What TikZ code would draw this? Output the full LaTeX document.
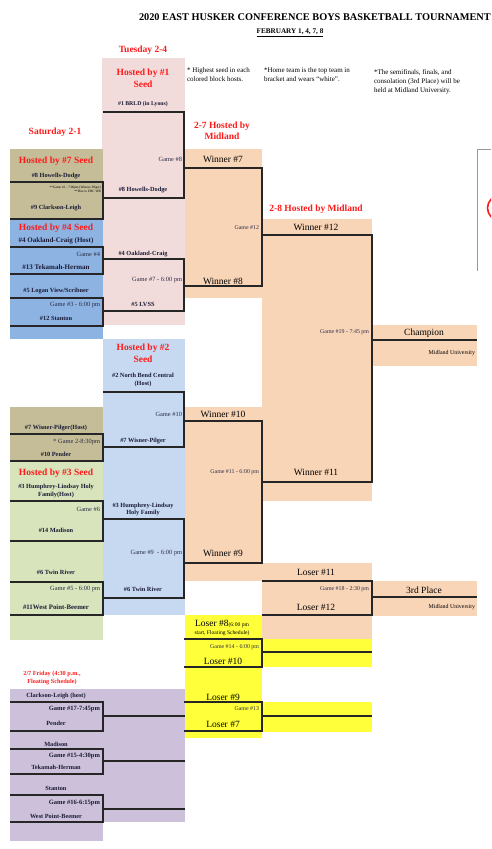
\documentclass[tikz,border=0pt]{standalone}
\usepackage{fontspec}
\setmainfont{Liberation Serif}
\usepackage{tikz}
\usetikzlibrary{positioning}
\definecolor{ehcPink}{HTML}{F2DCDB}
\definecolor{ehcTan}{HTML}{C4BD97}
\definecolor{ehcBlue}{HTML}{8DB3E2}
\definecolor{ehcSky}{HTML}{C6D9F0}
\definecolor{ehcPeach}{HTML}{F9D5B7}
\definecolor{ehcGreen}{HTML}{D7E4BC}
\definecolor{ehcYellow}{HTML}{FFFF3A}
\definecolor{ehcLilac}{HTML}{CCC0DA}
\definecolor{ehcNavy}{HTML}{1A1A36}
\definecolor{ehcRed}{HTML}{FF1A1A}

\begin{document}
\begin{tikzpicture}[x=1pt,y=-1pt,
    every node/.style={inner sep=0pt,outer sep=0pt},
    hosthdr/.style={text=ehcRed,font=\bfseries\fontsize{9.5}{11.5}\selectfont,align=center},
    dayhdr/.style={text=ehcRed,font=\bfseries\fontsize{9.5}{11}\selectfont,align=center},
    team/.style={text=ehcNavy,font=\bfseries\fontsize{6.3}{7.4}\selectfont,align=center},
    gamelbl/.style={anchor=east,text=ehcNavy!92,font=\fontsize{6.4}{7}\selectfont},
    smallgame/.style={gamelbl,font=\fontsize{5.9}{6.5}\selectfont},
    slot/.style={font=\fontsize{9.5}{11}\selectfont},
    venue/.style={anchor=east,font=\fontsize{5.9}{7}\selectfont},
    remark/.style={anchor=north west,align=left,font=\fontsize{7}{8.8}\selectfont},
    bline/.style={line width=1.1pt,black!85}]
  \useasboundingbox (0,0) rectangle (491,849);

  % colored blocks
  \fill[ehcPink] (102,58) rectangle (185,325);
  \fill[ehcTan] (10,149) rectangle (103,219);
  \fill[ehcBlue] (10,219) rectangle (103,339);
  \fill[ehcSky] (103,339) rectangle (185,615);
  \fill[ehcTan] (10,407) rectangle (103,461);
  \fill[ehcGreen] (10,461) rectangle (103,640);
  \fill[ehcPeach] (185,149) rectangle (262,298);
  \fill[ehcPeach] (262,219) rectangle (372,501);
  \fill[ehcPeach] (372,325) rectangle (477,366);
  \fill[ehcPeach] (185,407) rectangle (262,563);
  \fill[ehcPeach] (185,563) rectangle (372,581);
  \fill[ehcPeach] (262,581) rectangle (372,639);
  \fill[ehcPeach] (372,581) rectangle (477,616);
  \fill[ehcYellow] (185,615) rectangle (262,738);
  \fill[ehcYellow] (262,639) rectangle (372,667);
  \fill[ehcYellow] (262,702) rectangle (372,732);
  \fill[ehcLilac] (10,689) rectangle (185,822);
  \fill[ehcLilac] (10,822) rectangle (103,841);

  % title and notes
  \node[anchor=west,font=\bfseries\fontsize{10.3}{11}\selectfont] (title) at (139,17)
    {2020 EAST HUSKER CONFERENCE BOYS BASKETBALL TOURNAMENT};
  \node[font=\bfseries\fontsize{7.2}{8}\selectfont] (dates) at (290,33) {\underline{FEBRUARY 1, 4, 7, 8}};
  \node[remark] (noteHost) at (187,68) {* Highest seed in each\\colored block hosts.};
  \node[remark] (noteHome) at (264,68) {*Home team is the top team in\\bracket and wears ``white''.};
  \node[remark] (noteSite) at (374,70) {*The semifinals, finals, and\\consolation (3rd Place) will be\\held at Midland University.};

  % day headers
  \node[dayhdr] (tue) at (143,50) {Tuesday 2-4};
  \node[dayhdr] (sat) at (55,132) {Saturday 2-1};
  \node[dayhdr] (feb7) at (222,131) {2-7 Hosted by\\Midland};
  \node[dayhdr] (feb8) at (316,209) {2-8 Hosted by Midland};
  \node[text=ehcRed,font=\bfseries\fontsize{6.2}{8.6}\selectfont,align=center] (fri) at (52,678)
    {2/7 Friday (4:30 p.m.,\\Floating Schedule)};

  % Saturday, first round
  \node[hosthdr] (hostSeven) at (56,161) {Hosted by \#7 Seed};
  \node[team] (howellsA) at (56,176) {\#8 Howells-Dodge};
  \node[anchor=east,font=\fontsize{3.4}{4}\selectfont,align=right] (gOneNote) at (101,189.5)
    {**Game \#1 - 7:00pm (Winner-Pilger)\\**Due to EHC WR};
  \node[team] (clarkson) at (56,208) {\#9 Clarkson-Leigh};
  \node[hosthdr] (hostFour) at (56,228) {Hosted by \#4 Seed};
  \node[team,font=\bfseries\fontsize{7}{8}\selectfont] (oaklandA) at (56,241) {\#4 Oakland-Craig (Host)};
  \node[gamelbl] (gFour) at (100,254) {Game \#4};
  \node[team,font=\bfseries\fontsize{7}{8}\selectfont] (tekamahA) at (56,267) {\#13 Tekamah-Herman};
  \node[team] (logan) at (56,291) {\#5 Logan View/Scribner};
  \node[gamelbl] (gThree) at (100,305) {Game \#3 - 6:00 pm};
  \node[team] (stantonA) at (56,318) {\#12 Stanton};
  \node[team] (wisnerA) at (56,428) {\#7 Wisner-Pilger(Host)};
  \node[gamelbl] (gTwo) at (100,442) {* Game 2-8:30pm};
  \node[team] (penderA) at (56,454) {\#10 Pender};
  \node[hosthdr] (hostThree) at (56,473) {Hosted by \#3 Seed};
  \node[team,font=\bfseries\fontsize{6.3}{7.8}\selectfont] (humphreyA) at (56,491) {\#3 Humphrey-Lindsay Holy\\Family(Host)};
  \node[gamelbl] (gSix) at (100,509) {Game \#6};
  \node[team] (madisonA) at (56,530) {\#14 Madison};
  \node[team] (twinA) at (56,572) {\#6 Twin River};
  \node[gamelbl] (gFive) at (100,589) {Game \#5 - 6:00 pm};
  \node[team,font=\bfseries\fontsize{6.8}{8}\selectfont] (westA) at (56,607) {\#11West Point-Beemer};

  % Tuesday, quarterfinals
  \node[hosthdr] (hostOne) at (143,78) {Hosted by \#1\\Seed};
  \node[team,font=\bfseries\fontsize{5.8}{7}\selectfont] (brld) at (143,104) {\#1 BRLD (in Lyons)};
  \node[gamelbl] (gEight) at (182,159) {Game \#8};
  \node[team] (howellsB) at (143,190) {\#8 Howells-Dodge};
  \node[team] (oaklandB) at (143,254) {\#4 Oakland-Craig};
  \node[gamelbl] (gSeven) at (182,280) {Game \#7 - 6:00 pm};
  \node[team] (lvss) at (143,304) {\#5 LVSS};
  \node[hosthdr] (hostTwo) at (143,353) {Hosted by \#2\\Seed};
  \node[team,font=\bfseries\fontsize{6.3}{7.6}\selectfont] (northBend) at (143,380) {\#2 North Bend Central\\(Host)};
  \node[gamelbl] (gTen) at (182,414) {Game \#10};
  \node[team] (wisnerB) at (143,441) {\#7 Wisner-Pilger};
  \node[team,font=\bfseries\fontsize{6.3}{7.6}\selectfont] (humphreyB) at (143,509.5) {\#3 Humphrey-Lindsay\\Holy Family};
  \node[gamelbl] (gNine) at (182,553) {Game \#9 \ - 6:00 pm};
  \node[team] (twinB) at (143,589) {\#6 Twin River};

  % 2-7 semifinals
  \node[slot] (winSeven) at (223,159) {Winner \#7};
  \node[smallgame] (gTwelve) at (259,228) {Game \#12};
  \node[slot] (winEight) at (223,281) {Winner \#8};
  \node[slot] (winTen) at (223,414) {Winner \#10};
  \node[smallgame] (gEleven) at (259,472) {Game \#11 - 6:00 pm};
  \node[slot] (winNine) at (223,553) {Winner \#9};

  % 2-8 finals
  \node[slot] (winTwelve) at (316,227) {Winner \#12};
  \node[smallgame] (gNineteen) at (369,332) {Game \#19 - 7:45 pm};
  \node[slot] (winEleven) at (316,472) {Winner \#11};
  \node[slot] (champ) at (424,333) {Champion};
  \node[venue] (siteA) at (475,353) {Midland University};
  \node[slot] (loseEleven) at (316,572) {Loser \#11};
  \node[smallgame] (gEighteen) at (369,589) {Game \#18 - 2:30 pm};
  \node[slot] (loseTwelve) at (316,607) {Loser \#12};
  \node[slot] (third) at (424,590) {3rd Place};
  \node[venue] (siteB) at (475,607) {Midland University};

  % consolation, yellow block
  \node[slot] (loseEight) at (222,624) {Loser \#8{\fontsize{5.6}{6}\selectfont(6:00 pm}};
  \node[font=\fontsize{5.6}{6}\selectfont] (floatNote) at (222,633.5) {start, Floating Schedule)};
  \node[smallgame] (gFourteen) at (259,647) {Game \#14 - 6:00 pm};
  \node[slot] (loseTen) at (223,661) {Loser \#10};
  \node[slot] (loseNine) at (223,697) {Loser \#9};
  \node[smallgame] (gThirteen) at (259,709) {Game \#13};
  \node[slot] (loseSeven) at (223,724) {Loser \#7};

  % Friday, lilac block
  \node[team] (clarkHost) at (56,696) {Clarkson-Leigh (host)};
  \node[gamelbl,text=ehcNavy,font=\bfseries\fontsize{6.5}{7}\selectfont] (gSeventeen) at (100,709) {Game \#17-7:45pm};
  \node[team] (penderB) at (56,723) {Pender};
  \node[team] (madisonB) at (56,744) {Madison};
  \node[gamelbl,text=ehcNavy,font=\bfseries\fontsize{6.5}{7}\selectfont] (gFifteen) at (100,756) {Game \#15-4:30pm};
  \node[team] (tekamahB) at (56,767) {Tekamah-Herman};
  \node[team] (stantonB) at (56,788) {Stanton};
  \node[gamelbl,text=ehcNavy,font=\bfseries\fontsize{6.5}{7}\selectfont] (gSixteen) at (100,803) {Game \#16-6:15pm};
  \node[team] (westB) at (56,816) {West Point-Beemer};

  % bracket lines
  \foreach \xa/\xb/\ya/\yb in {10/103/182/219, 10/103/247/274, 10/103/298/326,
      10/103/434/461, 10/103/501/541, 10/103/582/615,
      10/103/702/731, 10/103/749/774, 10/103/795/822,
      103/184/112/198, 103/184/259/311, 103/184/392/447, 103/184/519/598,
      184/262/168/286, 184/262/421/563, 184/262/639/667, 184/262/702/731,
      262/372/235/482, 262/372/581/615}
    \draw[bline] (\xa,\ya) -| (\xb,\yb) -- (\xa,\yb);
  \foreach \xa/\xb/\y in {103/185/716, 103/185/761, 103/185/809,
      262/372/652, 262/372/716, 372/477/340, 372/477/597}
    \draw[bline] (\xa,\y) -- (\xb,\y);

  % cut-off picture at the right edge
  \begin{scope}
    \clip (0,0) rectangle (491,849);
    \draw[black!40,line width=0.7pt] (495,149) -- (477,149) -- (477,271);
    \draw[ehcRed,line width=1.6pt] (500,208) circle (12.5);
  \end{scope}
\end{tikzpicture}
\end{document}
